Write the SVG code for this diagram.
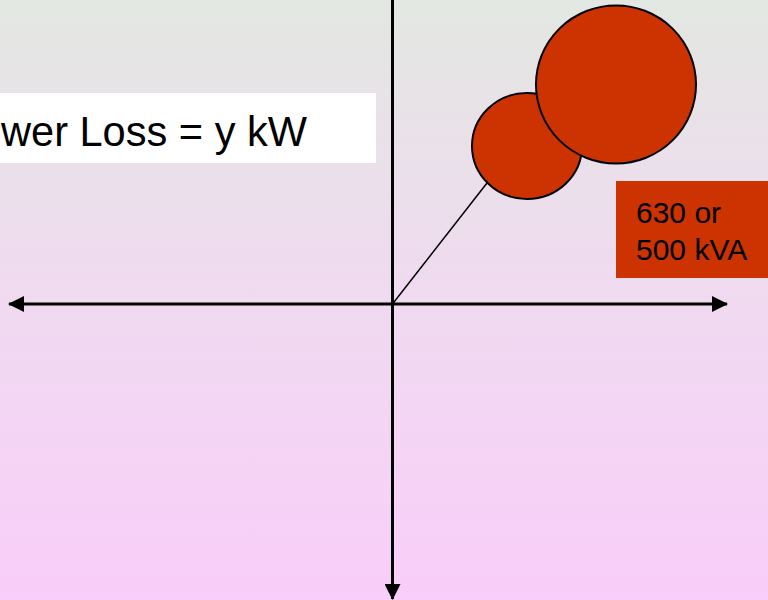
<svg xmlns="http://www.w3.org/2000/svg" width="768" height="600" viewBox="0 0 768 600">
<defs>
<linearGradient id="bg" x1="0" y1="0" x2="0" y2="1">
<stop offset="0" stop-color="#e3e7e2"/>
<stop offset="0.5" stop-color="#f0daf0"/>
<stop offset="1" stop-color="#f9cefa"/>
</linearGradient>
<marker id="arr" viewBox="0 0 16 16" refX="15" refY="8" markerWidth="16" markerHeight="16" markerUnits="userSpaceOnUse" orient="auto-start-reverse">
<path d="M0,0 L16,8 L0,16 Z" fill="#000"/>
</marker>
<style>
.ax{stroke:#000;stroke-width:3;fill:none}
.blob{fill:#cc3300;stroke:#000;stroke-width:2}
.t{font-family:"Liberation Sans",Arial,sans-serif;fill:#000}
</style>
</defs>
<rect x="0" y="0" width="768" height="600" fill="url(#bg)"/>
<g id="connectors">
<line class="ax" x1="392.5" y1="0" x2="392.5" y2="599" marker-end="url(#arr)"/>
<line class="ax" x1="9" y1="304" x2="727" y2="304" marker-start="url(#arr)" marker-end="url(#arr)"/>
<line x1="392.5" y1="304" x2="487" y2="183" stroke="#000" stroke-width="1.5"/>
</g>
<g id="label-loss">
<rect x="0" y="93" width="376" height="70" fill="#fff"/>
<text class="t" x="1" y="146" font-size="43" textLength="306" lengthAdjust="spacingAndGlyphs">wer Loss = y kW</text>
</g>
<g id="circle-small">
<ellipse class="blob" cx="527" cy="146" rx="55" ry="53"/>
</g>
<g id="circle-big">
<ellipse class="blob" cx="616" cy="84.5" rx="80" ry="79"/>
</g>
<g id="label-kva">
<rect x="616" y="181" width="152" height="97" fill="#cc3300"/>
<text class="t" x="636" y="223" font-size="30">630 or</text>
<text class="t" x="636" y="260" font-size="30">500 kVA</text>
</g>
</svg>
